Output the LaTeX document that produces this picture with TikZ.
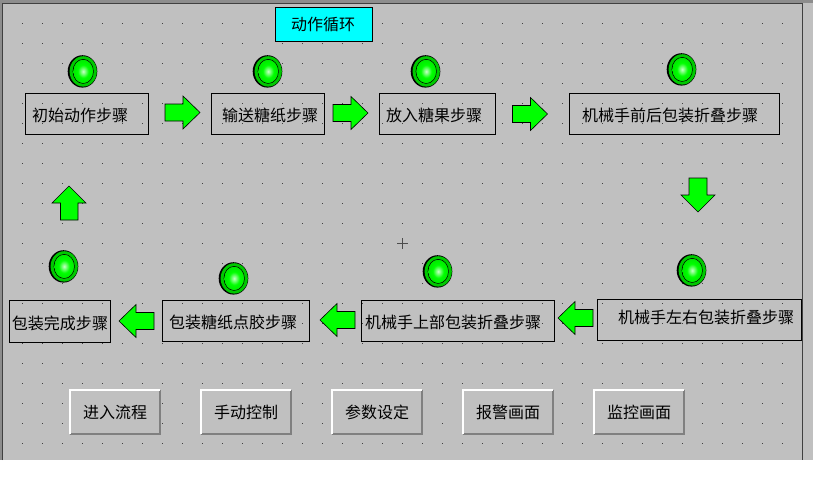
\documentclass[tikz,border=0pt]{standalone}
\usepackage{fontspec}
\setmainfont{Noto Sans CJK SC}
\definecolor{panel}{RGB}{192,192,192}
\definecolor{frameg}{RGB}{128,128,128}
\definecolor{framed}{RGB}{64,64,64}
\definecolor{ledrim}{RGB}{0,200,0}
\definecolor{ledcore}{RGB}{0,225,0}
\definecolor{ledhi}{RGB}{200,255,200}
\definecolor{aqua}{RGB}{0,255,255}
\definecolor{lime}{RGB}{0,255,0}
\pgfdeclareradialshading{ledglow}{\pgfpointorigin}{color(0bp)=(ledhi);color(14bp)=(lime);color(30bp)=(ledcore);color(50bp)=(ledcore)}
\tikzset{
  boxline/.style={draw=black,line width=0.75pt,outer sep=0pt},
  lbl/.style={inner sep=0pt,font=\fontsize{12pt}{12pt}\selectfont,text=black},
  blockarrow/.style={fill=lime,draw=black,line width=0.45pt,line join=miter},
}
\newcommand{\stepbox}[8]{%
  \node[boxline,inner sep=0pt,minimum width={(#4-#2)*0.75pt},minimum height={(#5-#3)*0.75pt},anchor=north west] (#1) at (#2,#3) {};
  \node[lbl] (#1t) at (#6,#7) {#8};
}
\newcommand{\led}[3]{%
  \node[inner sep=0pt,minimum size=0pt] (#1) at (#2,#3) {};
  \fill[black] (#2+0.5,#3+0.4) ellipse [x radius=14.8,y radius=16.2];
  \fill[ledrim] (#2+1.2,#3+0.4) ellipse [x radius=13.6,y radius=15.2];
  \draw[black,line width=0.5pt] (#2+1.2,#3+0.4) ellipse [x radius=10.2,y radius=12];
  \shade[shading=ledglow] (#2+1.2,#3+0.4) ellipse [x radius=9.8,y radius=11.6];
}
\newcommand{\hmi}[6]{%
  \node[inner sep=0pt,outer sep=0pt,minimum width=92*0.75pt,minimum height=46*0.75pt,anchor=north west,fill=panel] (#1) at (#2,#3) {};
  \draw[frameg,line width=1.5pt] (#2+1,#3+45) -- (#2+91,#3+45) -- (#2+91,#3+1);
  \draw[white,line width=1.2pt] (#2+.8,#3+45) -- (#2+.8,#3+.8) -- (#2+91,#3+.8);
  \node[lbl] (#1t) at (#4,#5) {#6};
}
\newcommand{\rarrow}[2]{\draw[blockarrow] (#1,#2-8.5) -- (#1+18,#2-8.5) -- (#1+18,#2-16.5) -- (#1+35,#2) -- (#1+18,#2+16.5) -- (#1+18,#2+8.5) -- (#1,#2+8.5) -- cycle;}
\newcommand{\larrow}[2]{\draw[blockarrow] (#1,#2-8.5) -- (#1-18,#2-8.5) -- (#1-18,#2-16.5) -- (#1-35,#2) -- (#1-18,#2+16.5) -- (#1-18,#2+8.5) -- (#1,#2+8.5) -- cycle;}
\begin{document}
\begin{tikzpicture}[x=0.75pt,y=-0.75pt]
\useasboundingbox (0,0) rectangle (813,489);
\fill[white] (0,0) rectangle (813,489);
\fill[panel] (0,0) rectangle (813,460);
\fill[frameg!80!panel] (0,0) rectangle (813,2.5);
\fill[frameg!80!panel] (0,0) rectangle (1.5,460);
\draw[framed,line width=1pt] (2.3,460) -- (2.3,3.2) -- (802.5,3.2) -- (802.5,460);
\foreach \i in {0,...,38} \foreach \j in {0,...,21}
  \fill[black!75] (22+20*\i-.5,23+20*\j-.5) rectangle +(1,1);
\draw[black!70,line width=0.6pt] (397,243) -- (408,243) (402.5,238) -- (402.5,249);

\node[inner sep=0pt,outer sep=0pt,draw=black,line width=0.75pt,fill=aqua,minimum width=97*0.75pt,minimum height=34*0.75pt,anchor=north west] (title) at (275.5,7.5) {};
\node[lbl] (titlet) at (323,24) {动作循环};

\stepbox{b1}{25.5}{93.5}{148.5}{134.5}{80}{115}{初始动作步骤}
\stepbox{b2}{211.5}{93.5}{324.5}{134.5}{270}{115}{输送糖纸步骤}
\stepbox{b3}{379.5}{93.5}{495.5}{134.5}{434}{115}{放入糖果步骤}
\stepbox{b4}{569.5}{93.5}{779.5}{134.5}{670}{115}{机械手前后包装折叠步骤}
\stepbox{b5}{597.5}{299.5}{801.5}{340.5}{706}{317}{机械手左右包装折叠步骤}
\stepbox{b6}{361.5}{300.5}{554.5}{341.5}{453}{322}{机械手上部包装折叠步骤}
\stepbox{b7}{162.5}{300.5}{309.5}{341.5}{233}{322}{包装糖纸点胶步骤}
\stepbox{b8}{9.5}{300.5}{110.5}{342.5}{60}{323}{包装完成步骤}

\led{l1}{82}{71}
\led{l2}{267}{71}
\led{l3}{425}{71}
\led{l4}{681}{69}
\led{l5}{691}{270}
\led{l6}{437}{271}
\led{l7}{233}{278}
\led{l8}{63}{266}

\rarrow{165}{112.5}
\rarrow{333}{113}
\rarrow{512.5}{114}
\draw[blockarrow] (689,178) -- (707,178) -- (707,195) -- (715,195) -- (698,212) -- (681,195) -- (689,195) -- cycle;
\larrow{593}{318}
\larrow{355}{320}
\larrow{154}{321}
\draw[blockarrow] (60.5,220) -- (78,220) -- (78,203) -- (86,203) -- (69,186) -- (52,203) -- (60.5,203) -- cycle;

\hmi{m1}{69}{389}{115}{412}{进入流程}
\hmi{m2}{200}{389}{246}{412}{手动控制}
\hmi{m3}{331}{389}{377}{412}{参数设定}
\hmi{m4}{462}{389}{508}{412}{报警画面}
\hmi{m5}{593}{389}{639}{412}{监控画面}
\end{tikzpicture}
\end{document}
